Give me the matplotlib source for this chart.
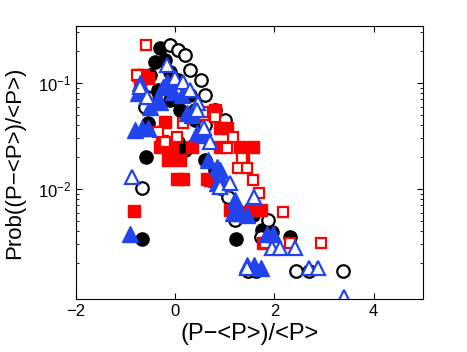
import matplotlib
matplotlib.use('Agg')
import matplotlib.pyplot as plt
import numpy as np

plt.rcParams['font.family'] = ['Liberation Sans', 'DejaVu Sans']
plt.rcParams['mathtext.fontset'] = 'custom'
plt.rcParams['mathtext.rm'] = 'Liberation Sans'
plt.rcParams['mathtext.it'] = 'Liberation Sans:italic'

# black filled circles
bf_x = [-0.30, -0.40, -0.51, -0.20, -0.10, 0.06, -0.34, -0.10, 0.10, 0.30, 0.40, -0.55,
        -0.59, 0.06, 0.20, 0.61, 0.81, 0.71, 0.91, 1.15, 1.23, 1.56, 1.76, 2.32, -0.67, 1.96]
bf_y = [0.214, 0.158, 0.119, 0.165, 0.127, 0.107, 0.086, 0.069, 0.056, 0.077, 0.045, 0.042,
        0.020, 0.0277, 0.0233, 0.0188, 0.0151, 0.0122, 0.0102, 0.0071, 0.0034, 0.0057, 0.0041,
        0.0035, 0.0034, 0.0039]

# black open circles
bo_x = [-0.10, 0.06, 0.20, -0.57, -0.61, 0.30, 0.51, 0.61, 0.81, 1.01, 0.40, 0.61,
        1.07, 1.21, 1.88, 1.72, 1.47, 1.62, 2.44, 2.69, 3.39, -0.67]
bo_y = [0.228, 0.205, 0.184, 0.074, 0.059, 0.133, 0.107, 0.077, 0.056, 0.045, 0.056, 0.040,
        0.0084, 0.0051, 0.0051, 0.0035, 0.0017, 0.0017, 0.0017, 0.0017, 0.0017, 0.0102]

# red filled squares
rf_x = [-0.75, -0.65, -0.71, -0.55, -0.20, 0.81, 0.91, 1.05, 0.91, -0.30, -0.06, 0.34,
        1.31, 1.56, -0.14, 0.10, 0.04, 0.16, 0.65, -0.83, 1.17, 1.45, 0.71, 1.37,
        1.11, 1.52, 1.72, 1.78, -0.26]
rf_y = [0.119, 0.119, 0.102, 0.111, 0.043, 0.056, 0.038, 0.038, 0.0249, 0.0249, 0.0249, 0.0249,
        0.0249, 0.0249, 0.0188, 0.0188, 0.0124, 0.0124, 0.0124, 0.0062, 0.0063, 0.0061, 0.0122,
        0.0188, 0.0063, 0.0063, 0.0063, 0.0031, 0.0285]

# red open squares
ro_x = [-0.59, 0.04, -0.20, -0.34, 0.57, 0.81, 1.17, 1.05, 1.35, 1.27, 1.45, 1.56,
        1.68, 2.18, 2.32, 1.82, 2.95, 0.55, -0.77, 0.16]
ro_y = [0.228, 0.031, 0.0277, 0.0345, 0.050, 0.048, 0.031, 0.0244, 0.0196, 0.0158, 0.0158, 0.0122,
        0.0092, 0.0061, 0.0031, 0.0031, 0.0031, 0.053, 0.119, 0.042]

# blue filled triangles
tf_x = [-0.81, -0.67, -0.55, -0.71, -0.75, -0.51, -0.36, -0.30, -0.24, -0.16, -0.04, 0.14,
        0.24, 0.34, 0.44, 0.55, 0.67, 0.85, 0.91, 0.85, 0.97, 1.21, 1.17, 1.31, 1.45,
        -0.91, 1.45, 1.58, 1.72, 1.86, 1.98]
tf_y = [0.036, 0.038, 0.038, 0.100, 0.080, 0.059, 0.069, 0.066, 0.092, 0.102, 0.082, 0.077,
        0.052, 0.050, 0.0338, 0.0323, 0.0188, 0.0161, 0.0151, 0.0114, 0.0114, 0.0079, 0.0059,
        0.0059, 0.0057, 0.0038, 0.0019, 0.0019, 0.0018, 0.0038, 0.0038]

# blue open triangles
to_x = [-0.16, 0.0, 0.16, -0.71, -0.57, 0.30, 0.46, 0.44, 0.57, 0.71, -0.87, 0.91, 1.11,
        1.58, 1.96, 2.12, 2.42, 1.45, 2.69, 2.87, 3.41]
to_y = [0.148, 0.111, 0.102, 0.092, 0.074, 0.086, 0.065, 0.056, 0.038, 0.0277, 0.0130, 0.0105,
        0.0114, 0.0084, 0.0028, 0.0028, 0.0028, 0.0018, 0.0018, 0.0018, 0.00096]

blue = '#2244ee'

fig = plt.figure(figsize=(4.67, 3.52), dpi=100)
ax = fig.add_axes([0.163, 0.151, 0.743, 0.775])

ax.plot(bf_x, bf_y, 'o', color='black', markersize=9.5, linestyle='none')
ax.plot(bo_x, bo_y, 'o', markerfacecolor='white', markeredgecolor='black',
        markeredgewidth=1.6, markersize=9, linestyle='none')
ax.plot(rf_x, rf_y, 's', color='red', markersize=8.5, linestyle='none')
ax.plot(ro_x, ro_y, 's', markerfacecolor='white', markeredgecolor='red',
        markeredgewidth=1.6, markersize=7.5, linestyle='none')
ax.plot(tf_x, tf_y, '^', color=blue, markersize=11, linestyle='none')
ax.plot(to_x, to_y, '^', markerfacecolor='white', markeredgecolor=blue,
        markeredgewidth=1.6, markersize=10, linestyle='none')

ax.set_yscale('log')
ax.set_xlim(-2, 5)
ax.set_ylim(0.00092, 0.345)
ax.set_xticks([-2, 0, 2, 4])
ax.set_yticks([0.01, 0.1])
ax.tick_params(which='both', direction='in', top=True, right=True, labelsize=12)
ax.tick_params(which='major', length=4)
ax.tick_params(which='minor', length=2)
for s in ax.spines.values():
    s.set_linewidth(0.8)

ax.set_xlabel('(P\u2212<P>)/<P>', fontsize=17, labelpad=3)
ax.set_ylabel('Prob((P\u2212<P>)/<P>)', fontsize=16, labelpad=9)

fig.savefig('out.png', dpi=100)
